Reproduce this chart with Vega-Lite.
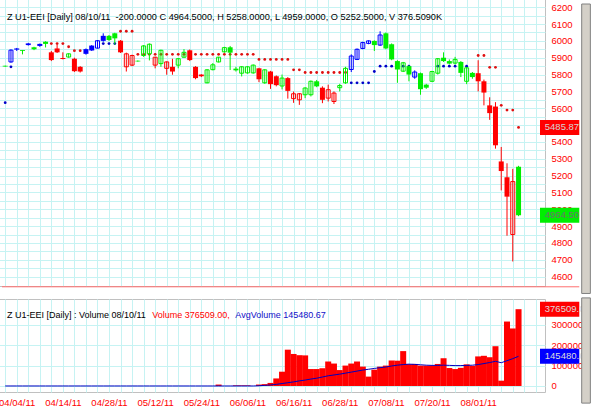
{
  "$schema": "https://vega.github.io/schema/vega-lite/v6.json",
  "padding": {"left": -4, "top": -2, "right": 0, "bottom": 0},
  "background": "white",
  "spacing": 13,
  "bounds": "flush",
  "config": {
    "view": {"stroke": "#c0c0c0"},
    "font": "Liberation Sans",
    "axis": {"domain": false, "ticks": false, "gridColor": "#c6f3f3", "gridWidth": 1, "labelColor": "#ff0000", "labelFont": "Liberation Sans", "labelFontSize": 9.5, "title": null, "labelOverlap": false, "labelFlush": false}
  },
  "datasets": {
    "bars": [
      {"i":-2,"o":5852,"h":5853,"l":5846,"c":5848,"s":"G","p":5633,"q":"B","v":0,"a":0},
      {"i":-1,"o":5875,"h":5950,"l":5870,"c":5945,"s":"B","p":5846,"q":"B","v":0,"a":0},
      {"i":0,"o":5955,"h":5958,"l":5940,"c":5948,"s":"B","v":0,"a":0},
      {"i":1,"o":5945,"h":5946,"l":5920,"c":5940,"s":"G","v":0,"a":0},
      {"i":2,"o":5985,"h":5988,"l":5972,"c":5975,"s":"B","v":0,"a":0},
      {"i":3,"o":5962,"h":5965,"l":5945,"c":5950,"s":"G","v":0,"a":0},
      {"i":4,"o":5982,"h":5984,"l":5965,"c":5970,"s":"B","v":0,"a":0},
      {"i":5,"o":5995,"h":5998,"l":5961,"c":5982,"s":"G","v":0,"a":0},
      {"i":6,"o":5932,"h":5940,"l":5880,"c":5886,"s":"R","p":5984,"q":"R","v":0,"a":0},
      {"i":7,"o":5955,"h":5976,"l":5928,"c":5932,"s":"R","p":5984,"q":"R","v":0,"a":0},
      {"i":8,"o":5898,"h":5932,"l":5890,"c":5892,"s":"R","p":5984,"q":"R","v":0,"a":0},
      {"i":9,"o":5904,"h":5926,"l":5900,"c":5923,"s":"G","p":5965,"q":"R","v":0,"a":0},
      {"i":10,"o":5894,"h":5900,"l":5815,"c":5820,"s":"R","p":5942,"q":"R","v":0,"a":0},
      {"i":11,"o":5846,"h":5850,"l":5812,"c":5818,"s":"R","p":5942,"q":"R","v":0,"a":0},
      {"i":12,"o":5951,"h":5955,"l":5918,"c":5923,"s":"B","v":0,"a":0},
      {"i":13,"o":5972,"h":5975,"l":5940,"c":5943,"s":"B","v":0,"a":0},
      {"i":14,"o":5957,"h":6005,"l":5955,"c":6001,"s":"B","v":0,"a":0},
      {"i":15,"o":6030,"h":6045,"l":5995,"c":6000,"s":"B","p":5984,"q":"B","v":0,"a":0},
      {"i":16,"o":6030,"h":6035,"l":6000,"c":6005,"s":"G","p":5984,"q":"B","v":0,"a":0},
      {"i":17,"o":6045,"h":6048,"l":5978,"c":6015,"s":"G","p":5984,"q":"B","v":0,"a":0},
      {"i":18,"o":6001,"h":6005,"l":5928,"c":5932,"s":"R","p":6057,"q":"R","v":0,"a":0},
      {"i":19,"o":5846,"h":5930,"l":5818,"c":5923,"s":"R","p":6057,"q":"R","v":0,"a":0},
      {"i":20,"o":5856,"h":5918,"l":5850,"c":5913,"s":"R","p":6057,"q":"R","v":0,"a":0},
      {"i":21,"o":5882,"h":5884,"l":5876,"c":5878,"s":"G","p":5920,"q":"R","v":0,"a":0},
      {"i":22,"o":5913,"h":5975,"l":5905,"c":5970,"s":"G","p":5920,"q":"R","v":0,"a":0},
      {"i":23,"o":5923,"h":5985,"l":5884,"c":5980,"s":"G","p":5920,"q":"R","v":0,"a":0},
      {"i":24,"o":5856,"h":5905,"l":5837,"c":5903,"s":"R","p":5920,"q":"R","v":0,"a":0},
      {"i":25,"o":5865,"h":5948,"l":5846,"c":5944,"s":"G","p":5920,"q":"R","v":0,"a":0},
      {"i":26,"o":5837,"h":5878,"l":5799,"c":5875,"s":"R","p":5920,"q":"R","v":0,"a":0},
      {"i":27,"o":5846,"h":5894,"l":5799,"c":5818,"s":"R","p":5920,"q":"R","v":0,"a":0},
      {"i":28,"o":5856,"h":5897,"l":5837,"c":5894,"s":"G","p":5920,"q":"R","v":0,"a":0},
      {"i":29,"o":5903,"h":5951,"l":5900,"c":5932,"s":"G","p":5920,"q":"R","v":0,"a":0},
      {"i":30,"o":5944,"h":5949,"l":5880,"c":5886,"s":"R","p":5920,"q":"R","v":0,"a":0},
      {"i":31,"o":5846,"h":5850,"l":5772,"c":5779,"s":"R","p":5920,"q":"R","v":0,"a":0},
      {"i":32,"o":5800,"h":5802,"l":5785,"c":5790,"s":"R","p":5920,"q":"R","v":0,"a":0},
      {"i":33,"o":5751,"h":5832,"l":5748,"c":5828,"s":"G","p":5920,"q":"R","v":0,"a":0},
      {"i":34,"o":5829,"h":5868,"l":5825,"c":5858,"s":"G","p":5920,"q":"R","v":0,"a":0},
      {"i":35,"o":5875,"h":5905,"l":5872,"c":5903,"s":"G","p":5920,"q":"R","v":7000,"a":0},
      {"i":36,"o":5935,"h":5965,"l":5930,"c":5960,"s":"G","p":5920,"q":"R","v":0,"a":0},
      {"i":37,"o":5962,"h":5970,"l":5827,"c":5930,"s":"G","p":5920,"q":"R","v":0,"a":0},
      {"i":38,"o":5835,"h":5846,"l":5818,"c":5825,"s":"G","p":5920,"q":"R","v":3000,"a":0},
      {"i":39,"o":5808,"h":5850,"l":5789,"c":5846,"s":"G","p":5920,"q":"R","v":3000,"a":0},
      {"i":40,"o":5810,"h":5850,"l":5805,"c":5846,"s":"G","p":5920,"q":"R","v":3000,"a":0},
      {"i":41,"o":5810,"h":5860,"l":5805,"c":5856,"s":"G","p":5920,"q":"R","v":0,"a":0},
      {"i":42,"o":5837,"h":5840,"l":5755,"c":5772,"s":"R","p":5890,"q":"R","v":7000,"a":1000},
      {"i":43,"o":5751,"h":5832,"l":5745,"c":5828,"s":"G","p":5890,"q":"R","v":9000,"a":3000},
      {"i":44,"o":5818,"h":5822,"l":5715,"c":5743,"s":"R","p":5890,"q":"R","v":15000,"a":5000},
      {"i":45,"o":5790,"h":5795,"l":5730,"c":5737,"s":"R","p":5890,"q":"R","v":37000,"a":8000},
      {"i":46,"o":5732,"h":5800,"l":5712,"c":5779,"s":"G","p":5890,"q":"R","v":70000,"a":12000},
      {"i":47,"o":5779,"h":5785,"l":5657,"c":5703,"s":"R","p":5890,"q":"R","v":178000,"a":16000},
      {"i":48,"o":5657,"h":5699,"l":5632,"c":5686,"s":"R","p":5828,"q":"R","v":157000,"a":20000},
      {"i":49,"o":5650,"h":5690,"l":5620,"c":5686,"s":"R","p":5828,"q":"R","v":151000,"a":25000},
      {"i":50,"o":5680,"h":5725,"l":5660,"c":5720,"s":"G","p":5812,"q":"R","v":150000,"a":29000},
      {"i":51,"o":5680,"h":5765,"l":5670,"c":5760,"s":"G","p":5812,"q":"R","v":83000,"a":34000},
      {"i":52,"o":5760,"h":5768,"l":5725,"c":5730,"s":"G","p":5812,"q":"R","v":83000,"a":38000},
      {"i":53,"o":5722,"h":5730,"l":5630,"c":5650,"s":"R","p":5812,"q":"R","v":87000,"a":44000},
      {"i":54,"o":5660,"h":5740,"l":5640,"c":5710,"s":"R","p":5812,"q":"R","v":120000,"a":50000},
      {"i":55,"o":5640,"h":5700,"l":5625,"c":5690,"s":"R","p":5812,"q":"R","v":110000,"a":54000},
      {"i":56,"o":5722,"h":5745,"l":5700,"c":5735,"s":"G","p":5812,"q":"R","v":78000,"a":58000},
      {"i":57,"o":5751,"h":5846,"l":5745,"c":5837,"s":"G","p":5812,"q":"R","v":100000,"a":63000},
      {"i":58,"o":5830,"h":5920,"l":5815,"c":5910,"s":"B","p":5751,"q":"B","v":110000,"a":68000},
      {"i":59,"o":5890,"h":5955,"l":5886,"c":5950,"s":"B","p":5751,"q":"B","v":120000,"a":73000},
      {"i":60,"o":5955,"h":5995,"l":5950,"c":5990,"s":"B","p":5751,"q":"B","v":95000,"a":78000},
      {"i":61,"o":5985,"h":6003,"l":5980,"c":6000,"s":"B","p":5751,"q":"B","v":46000,"a":82000},
      {"i":62,"o":6000,"h":6003,"l":5940,"c":5975,"s":"G","p":5818,"q":"B","v":80000,"a":86000},
      {"i":63,"o":5975,"h":6057,"l":5970,"c":6035,"s":"B","p":5850,"q":"B","v":95000,"a":90000},
      {"i":64,"o":6045,"h":6050,"l":5950,"c":5955,"s":"G","p":5850,"q":"B","v":100000,"a":93000},
      {"i":65,"o":5980,"h":5985,"l":5885,"c":5890,"s":"G","p":5850,"q":"B","v":125000,"a":98000},
      {"i":66,"o":5880,"h":5885,"l":5751,"c":5830,"s":"G","p":5850,"q":"B","v":124000,"a":102000},
      {"i":67,"o":5820,"h":5875,"l":5815,"c":5870,"s":"G","p":5850,"q":"B","v":171000,"a":105000},
      {"i":68,"o":5850,"h":5855,"l":5760,"c":5800,"s":"G","p":5850,"q":"B","v":107000,"a":107000},
      {"i":69,"o":5785,"h":5825,"l":5775,"c":5815,"s":"B","v":108000,"a":106000},
      {"i":70,"o":5808,"h":5812,"l":5680,"c":5713,"s":"G","v":100000,"a":104000},
      {"i":71,"o":5740,"h":5745,"l":5715,"c":5722,"s":"G","v":100000,"a":102000},
      {"i":72,"o":5760,"h":5822,"l":5755,"c":5818,"s":"G","v":100000,"a":101000},
      {"i":73,"o":5808,"h":5898,"l":5800,"c":5894,"s":"G","p":5850,"q":"B","v":108000,"a":101000},
      {"i":74,"o":5900,"h":5932,"l":5875,"c":5880,"s":"G","p":5850,"q":"B","v":136000,"a":102000},
      {"i":75,"o":5880,"h":5890,"l":5860,"c":5865,"s":"G","p":5850,"q":"B","v":88000,"a":101000},
      {"i":76,"o":5868,"h":5905,"l":5860,"c":5890,"s":"G","p":5850,"q":"B","v":83000,"a":100000},
      {"i":77,"o":5875,"h":5880,"l":5785,"c":5810,"s":"G","p":5850,"q":"B","v":89000,"a":100000},
      {"i":78,"o":5760,"h":5845,"l":5743,"c":5840,"s":"G","p":5850,"q":"B","v":106000,"a":101000},
      {"i":79,"o":5810,"h":5815,"l":5775,"c":5785,"s":"G","v":99000,"a":102000},
      {"i":80,"o":5808,"h":5885,"l":5700,"c":5760,"s":"R","p":5913,"q":"R","v":145000,"a":105000},
      {"i":81,"o":5760,"h":5770,"l":5617,"c":5693,"s":"R","p":5913,"q":"R","v":148000,"a":110000},
      {"i":82,"o":5617,"h":5665,"l":5531,"c":5571,"s":"R","p":5843,"q":"R","v":141000,"a":115000},
      {"i":83,"o":5610,"h":5636,"l":5360,"c":5380,"s":"R","p":5843,"q":"R","v":195000,"a":121000},
      {"i":84,"o":5284,"h":5370,"l":5112,"c":5227,"s":"R","p":5617,"q":"R","v":26000,"a":114000},
      {"i":85,"o":5190,"h":5273,"l":4843,"c":5075,"s":"R","p":5589,"q":"R","v":316000,"a":124000},
      {"i":86,"o":4850,"h":5240,"l":4690,"c":5164.5,"s":"R","p":5589,"q":"R","v":282000,"a":134000},
      {"i":87,"o":5252.5,"h":5258,"l":4959,"c":4964.5,"s":"G","p":5485.87,"q":"R","v":376509,"a":145480.67}
    ],
    "tags": [
      {"panel":"price","v":5485.87,"t":"5485.87","k":"R"},
      {"panel":"price","v":4964.5,"t":"4964.50","k":"G"},
      {"panel":"vol","v":376509,"t":"376509.00","k":"R"},
      {"panel":"vol","v":145480.67,"t":"145480.67","k":"B"}
    ],
    "anno": [{"n": 1}]
  },
  "vconcat": [
    {
      "width": 548,
      "height": 287,
      "layer": [
        {
          "data": {"name": "bars"},
          "transform": [{"filter": "isValid(datum.p)"}],
          "mark": {"type": "circle", "size": 8, "opacity": 1},
          "encoding": {
            "x": {"field": "i", "type": "quantitative", "scale": {"domain": [-2.553, 90.72], "nice": false, "zero": false},
                  "axis": {"values": [-2,0,2,4,6,8,10,12,14,16,18,20,22,24,26,28,30,32,34,36,38,40,42,44,46,48,50,52,54,56,58,60,62,64,66,68,70,72,74,76,78,80,82,84,86,88,90], "labels": false, "grid": true}},
            "y": {"field": "p", "type": "quantitative", "scale": {"domain": [4574, 6219], "nice": false, "zero": false},
                  "axis": {"orient": "right", "labelPadding": 6, "values": [4600,4650,4700,4750,4800,4850,4900,4950,5000,5050,5100,5150,5200,5250,5300,5350,5400,5450,5500,5550,5600,5650,5700,5750,5800,5850,5900,5950,6000,6050,6100,6150,6200], "labelExpr": "datum.value % 100 === 0 ? '' + datum.value : ''"}},
            "fill": {"field": "q", "type": "nominal", "scale": {"domain": ["R","B"], "range": ["#e01010","#0000c8"]}, "legend": null}
          }
        },
        {
          "data": {"name": "bars"},
          "mark": {"type": "rule", "strokeWidth": 1},
          "encoding": {
            "x": {"field": "i", "type": "quantitative", "scale": {"domain": [-2.553, 90.72], "nice": false, "zero": false},
                  "axis": {"values": [-2,0,2,4,6,8,10,12,14,16,18,20,22,24,26,28,30,32,34,36,38,40,42,44,46,48,50,52,54,56,58,60,62,64,66,68,70,72,74,76,78,80,82,84,86,88,90], "labels": false, "grid": true}},
            "y": {"field": "l", "type": "quantitative", "scale": {"domain": [4574, 6219], "nice": false, "zero": false},
                  "axis": {"orient": "right", "labelPadding": 6, "values": [4600,4650,4700,4750,4800,4850,4900,4950,5000,5050,5100,5150,5200,5250,5300,5350,5400,5450,5500,5550,5600,5650,5700,5750,5800,5850,5900,5950,6000,6050,6100,6150,6200], "labelExpr": "datum.value % 100 === 0 ? '' + datum.value : ''"}},
            "y2": {"field": "h"},
            "color": {"field": "s", "type": "nominal", "scale": {"domain": ["R","G","B"], "range": ["#ff0000","#00ee00","#0000ff"]}, "legend": null}
          }
        },
        {
          "data": {"name": "bars"},
          "transform": [{"filter": "datum.c <= datum.o"}],
          "mark": {"type": "bar", "orient": "vertical", "size": 5},
          "encoding": {
            "x": {"field": "i", "type": "quantitative", "scale": {"domain": [-2.553, 90.72], "nice": false, "zero": false},
                  "axis": {"values": [-2,0,2,4,6,8,10,12,14,16,18,20,22,24,26,28,30,32,34,36,38,40,42,44,46,48,50,52,54,56,58,60,62,64,66,68,70,72,74,76,78,80,82,84,86,88,90], "labels": false, "grid": true}},
            "y": {"field": "o", "type": "quantitative", "scale": {"domain": [4574, 6219], "nice": false, "zero": false},
                  "axis": {"orient": "right", "labelPadding": 6, "values": [4600,4650,4700,4750,4800,4850,4900,4950,5000,5050,5100,5150,5200,5250,5300,5350,5400,5450,5500,5550,5600,5650,5700,5750,5800,5850,5900,5950,6000,6050,6100,6150,6200], "labelExpr": "datum.value % 100 === 0 ? '' + datum.value : ''"}},
            "y2": {"field": "c"},
            "color": {"field": "s", "type": "nominal", "legend": null}
          }
        },
        {
          "data": {"name": "bars"},
          "transform": [{"filter": "datum.c > datum.o"}],
          "mark": {"type": "bar", "orient": "vertical", "size": 4, "filled": false, "strokeWidth": 1},
          "encoding": {
            "x": {"field": "i", "type": "quantitative", "scale": {"domain": [-2.553, 90.72], "nice": false, "zero": false},
                  "axis": {"values": [-2,0,2,4,6,8,10,12,14,16,18,20,22,24,26,28,30,32,34,36,38,40,42,44,46,48,50,52,54,56,58,60,62,64,66,68,70,72,74,76,78,80,82,84,86,88,90], "labels": false, "grid": true}},
            "y": {"field": "o", "type": "quantitative", "scale": {"domain": [4574, 6219], "nice": false, "zero": false},
                  "axis": {"orient": "right", "labelPadding": 6, "values": [4600,4650,4700,4750,4800,4850,4900,4950,5000,5050,5100,5150,5200,5250,5300,5350,5400,5450,5500,5550,5600,5650,5700,5750,5800,5850,5900,5950,6000,6050,6100,6150,6200], "labelExpr": "datum.value % 100 === 0 ? '' + datum.value : ''"}},
            "y2": {"field": "c"},
            "color": {"field": "s", "type": "nominal", "legend": null}
          }
        },
        {
          "data": {"name": "anno"},
          "mark": {"type": "text", "align": "left", "baseline": "middle", "fontSize": 9.2, "font": "Liberation Sans", "fill": "#000000"},
          "encoding": {
            "x": {"datum": -1.7, "type": "quantitative", "scale": {"domain": [-2.553, 90.72], "nice": false, "zero": false},
                  "axis": {"values": [-2,0,2,4,6,8,10,12,14,16,18,20,22,24,26,28,30,32,34,36,38,40,42,44,46,48,50,52,54,56,58,60,62,64,66,68,70,72,74,76,78,80,82,84,86,88,90], "labels": false, "grid": true}},
            "y": {"datum": 6144.5, "type": "quantitative", "scale": {"domain": [4574, 6219], "nice": false, "zero": false},
                  "axis": {"orient": "right", "labelPadding": 6, "values": [4600,4650,4700,4750,4800,4850,4900,4950,5000,5050,5100,5150,5200,5250,5300,5350,5400,5450,5500,5550,5600,5650,5700,5750,5800,5850,5900,5950,6000,6050,6100,6150,6200], "labelExpr": "datum.value % 100 === 0 ? '' + datum.value : ''"}},
            "text": {"value": "Z U1-EEI [Daily] 08/10/11\u00a0 -200.0000 C 4964.5000, H 5258.0000, L 4959.0000, O 5252.5000, V 376.5090K"}
          }
        },
        {
          "data": {"name": "tags"},
          "transform": [{"filter": "datum.panel === 'price'"}],
          "mark": {"type": "bar", "orient": "horizontal", "size": 15},
          "encoding": {
            "x": {"datum": 90.72, "type": "quantitative", "scale": {"domain": [-2.553, 90.72], "nice": false, "zero": false},
                  "axis": {"values": [-2,0,2,4,6,8,10,12,14,16,18,20,22,24,26,28,30,32,34,36,38,40,42,44,46,48,50,52,54,56,58,60,62,64,66,68,70,72,74,76,78,80,82,84,86,88,90], "labels": false, "grid": true}},
            "x2": {"datum": 97.53},
            "y": {"field": "v", "type": "quantitative", "scale": {"domain": [4574, 6219], "nice": false, "zero": false},
                  "axis": {"orient": "right", "labelPadding": 6, "values": [4600,4650,4700,4750,4800,4850,4900,4950,5000,5050,5100,5150,5200,5250,5300,5350,5400,5450,5500,5550,5600,5650,5700,5750,5800,5850,5900,5950,6000,6050,6100,6150,6200], "labelExpr": "datum.value % 100 === 0 ? '' + datum.value : ''"}},
            "color": {"field": "k", "type": "nominal", "legend": null}
          }
        },
        {
          "data": {"name": "tags"},
          "transform": [{"filter": "datum.panel === 'price' && datum.k === 'R'"}],
          "mark": {"type": "text", "align": "left", "baseline": "middle", "fontSize": 9.5, "font": "Liberation Sans", "fill": "#d4d4d4"},
          "encoding": {
            "x": {"datum": 91.55, "type": "quantitative", "scale": {"domain": [-2.553, 90.72], "nice": false, "zero": false},
                  "axis": {"values": [-2,0,2,4,6,8,10,12,14,16,18,20,22,24,26,28,30,32,34,36,38,40,42,44,46,48,50,52,54,56,58,60,62,64,66,68,70,72,74,76,78,80,82,84,86,88,90], "labels": false, "grid": true}},
            "y": {"field": "v", "type": "quantitative", "scale": {"domain": [4574, 6219], "nice": false, "zero": false},
                  "axis": {"orient": "right", "labelPadding": 6, "values": [4600,4650,4700,4750,4800,4850,4900,4950,5000,5050,5100,5150,5200,5250,5300,5350,5400,5450,5500,5550,5600,5650,5700,5750,5800,5850,5900,5950,6000,6050,6100,6150,6200], "labelExpr": "datum.value % 100 === 0 ? '' + datum.value : ''"}},
            "text": {"field": "t"}
          }
        },
        {
          "data": {"name": "tags"},
          "transform": [{"filter": "datum.panel === 'price' && datum.k === 'G'"}],
          "mark": {"type": "text", "align": "left", "baseline": "middle", "fontSize": 9.5, "font": "Liberation Sans", "fill": "#707070"},
          "encoding": {
            "x": {"datum": 91.55, "type": "quantitative", "scale": {"domain": [-2.553, 90.72], "nice": false, "zero": false},
                  "axis": {"values": [-2,0,2,4,6,8,10,12,14,16,18,20,22,24,26,28,30,32,34,36,38,40,42,44,46,48,50,52,54,56,58,60,62,64,66,68,70,72,74,76,78,80,82,84,86,88,90], "labels": false, "grid": true}},
            "y": {"field": "v", "type": "quantitative", "scale": {"domain": [4574, 6219], "nice": false, "zero": false},
                  "axis": {"orient": "right", "labelPadding": 6, "values": [4600,4650,4700,4750,4800,4850,4900,4950,5000,5050,5100,5150,5200,5250,5300,5350,5400,5450,5500,5550,5600,5650,5700,5750,5800,5850,5900,5950,6000,6050,6100,6150,6200], "labelExpr": "datum.value % 100 === 0 ? '' + datum.value : ''"}},
            "text": {"field": "t"}
          }
        },
        {
          "data": {"name": "anno"},
          "mark": {"type": "rule", "color": "#ff7070", "strokeWidth": 1},
          "encoding": {
            "x": {"datum": -2.553, "type": "quantitative", "scale": {"domain": [-2.553, 90.72], "nice": false, "zero": false},
                  "axis": {"values": [-2,0,2,4,6,8,10,12,14,16,18,20,22,24,26,28,30,32,34,36,38,40,42,44,46,48,50,52,54,56,58,60,62,64,66,68,70,72,74,76,78,80,82,84,86,88,90], "labels": false, "grid": true}},
            "x2": {"datum": 97.53},
            "y": {"datum": 4539.6, "type": "quantitative", "scale": {"domain": [4574, 6219], "nice": false, "zero": false},
                  "axis": {"orient": "right", "labelPadding": 6, "values": [4600,4650,4700,4750,4800,4850,4900,4950,5000,5050,5100,5150,5200,5250,5300,5350,5400,5450,5500,5550,5600,5650,5700,5750,5800,5850,5900,5950,6000,6050,6100,6150,6200], "labelExpr": "datum.value % 100 === 0 ? '' + datum.value : ''"}}
          }
        },
        {
          "data": {"name": "anno"},
          "mark": {"type": "rect", "fill": "#d4d0c8", "stroke": "#808080", "strokeWidth": 1},
          "encoding": {
            "x": {"datum": 97.95, "type": "quantitative", "scale": {"domain": [-2.553, 90.72], "nice": false, "zero": false},
                  "axis": {"values": [-2,0,2,4,6,8,10,12,14,16,18,20,22,24,26,28,30,32,34,36,38,40,42,44,46,48,50,52,54,56,58,60,62,64,66,68,70,72,74,76,78,80,82,84,86,88,90], "labels": false, "grid": true}},
            "x2": {"datum": 99.45},
            "y": {"datum": 6219, "type": "quantitative", "scale": {"domain": [4574, 6219], "nice": false, "zero": false},
                  "axis": {"orient": "right", "labelPadding": 6, "values": [4600,4650,4700,4750,4800,4850,4900,4950,5000,5050,5100,5150,5200,5250,5300,5350,5400,5450,5500,5550,5600,5650,5700,5750,5800,5850,5900,5950,6000,6050,6100,6150,6200], "labelExpr": "datum.value % 100 === 0 ? '' + datum.value : ''"}},
            "y2": {"datum": 4500}
          }
        }
      ]
    },
    {
      "width": 548,
      "height": 93,
      "layer": [
        {
          "data": {"name": "bars"},
          "mark": {"type": "bar", "size": 6, "color": "#ff0000"},
          "encoding": {
            "x": {"field": "i", "type": "quantitative", "scale": {"domain": [-2.553, 90.72], "nice": false, "zero": false},
                  "axis": {"values": [-2,0,2,4,6,8,10,12,14,16,18,20,22,24,26,28,30,32,34,36,38,40,42,44,46,48,50,52,54,56,58,60,62,64,66,68,70,72,74,76,78,80,82,84,86,88,90], "grid": true, "labelPadding": 5, "labelExpr": "datum.value % 8 === 0 && datum.value >= 0 && datum.value <= 80 ? ['04/04/11','04/14/11','04/28/11','05/12/11','05/24/11','06/06/11','06/16/11','06/28/11','07/08/11','07/20/11','08/01/11'][datum.value / 8] : ''"}},
            "y": {"field": "v", "type": "quantitative", "scale": {"domain": [-5000, 402000], "nice": false, "zero": false},
                  "axis": {"orient": "right", "labelPadding": 6, "values": [0, 100000, 200000, 300000], "format": "d"}}
          }
        },
        {
          "data": {"name": "bars"},
          "mark": {"type": "line", "color": "#0000c0", "strokeWidth": 1},
          "encoding": {
            "x": {"field": "i", "type": "quantitative", "scale": {"domain": [-2.553, 90.72], "nice": false, "zero": false},
                  "axis": {"values": [-2,0,2,4,6,8,10,12,14,16,18,20,22,24,26,28,30,32,34,36,38,40,42,44,46,48,50,52,54,56,58,60,62,64,66,68,70,72,74,76,78,80,82,84,86,88,90], "grid": true, "labelPadding": 5, "labelExpr": "datum.value % 8 === 0 && datum.value >= 0 && datum.value <= 80 ? ['04/04/11','04/14/11','04/28/11','05/12/11','05/24/11','06/06/11','06/16/11','06/28/11','07/08/11','07/20/11','08/01/11'][datum.value / 8] : ''"}},
            "y": {"field": "a", "type": "quantitative", "scale": {"domain": [-5000, 402000], "nice": false, "zero": false},
                  "axis": {"orient": "right", "labelPadding": 6, "values": [0, 100000, 200000, 300000], "format": "d"}}
          }
        },
        {
          "data": {"name": "anno"},
          "mark": {"type": "text", "align": "left", "baseline": "middle", "fontSize": 9, "font": "Liberation Sans", "fill": "#000000"},
          "encoding": {
            "x": {"datum": -1.7, "type": "quantitative", "scale": {"domain": [-2.553, 90.72], "nice": false, "zero": false},
                  "axis": {"values": [-2,0,2,4,6,8,10,12,14,16,18,20,22,24,26,28,30,32,34,36,38,40,42,44,46,48,50,52,54,56,58,60,62,64,66,68,70,72,74,76,78,80,82,84,86,88,90], "grid": true, "labelPadding": 5, "labelExpr": "datum.value % 8 === 0 && datum.value >= 0 && datum.value <= 80 ? ['04/04/11','04/14/11','04/28/11','05/12/11','05/24/11','06/06/11','06/16/11','06/28/11','07/08/11','07/20/11','08/01/11'][datum.value / 8] : ''"}},
            "y": {"datum": 349500, "type": "quantitative", "scale": {"domain": [-5000, 402000], "nice": false, "zero": false},
                  "axis": {"orient": "right", "labelPadding": 6, "values": [0, 100000, 200000, 300000], "format": "d"}},
            "text": {"value": "Z U1-EEI [Daily] : Volume 08/10/11"}
          }
        },
        {
          "data": {"name": "anno"},
          "mark": {"type": "text", "align": "left", "baseline": "middle", "fontSize": 9, "font": "Liberation Sans", "fill": "#ff0000"},
          "encoding": {
            "x": {"datum": 23.5, "type": "quantitative", "scale": {"domain": [-2.553, 90.72], "nice": false, "zero": false},
                  "axis": {"values": [-2,0,2,4,6,8,10,12,14,16,18,20,22,24,26,28,30,32,34,36,38,40,42,44,46,48,50,52,54,56,58,60,62,64,66,68,70,72,74,76,78,80,82,84,86,88,90], "grid": true, "labelPadding": 5, "labelExpr": "datum.value % 8 === 0 && datum.value >= 0 && datum.value <= 80 ? ['04/04/11','04/14/11','04/28/11','05/12/11','05/24/11','06/06/11','06/16/11','06/28/11','07/08/11','07/20/11','08/01/11'][datum.value / 8] : ''"}},
            "y": {"datum": 349500, "type": "quantitative", "scale": {"domain": [-5000, 402000], "nice": false, "zero": false},
                  "axis": {"orient": "right", "labelPadding": 6, "values": [0, 100000, 200000, 300000], "format": "d"}},
            "text": {"value": "Volume 376509.00,"}
          }
        },
        {
          "data": {"name": "anno"},
          "mark": {"type": "text", "align": "left", "baseline": "middle", "fontSize": 9, "font": "Liberation Sans", "fill": "#1010c8"},
          "encoding": {
            "x": {"datum": 37.9, "type": "quantitative", "scale": {"domain": [-2.553, 90.72], "nice": false, "zero": false},
                  "axis": {"values": [-2,0,2,4,6,8,10,12,14,16,18,20,22,24,26,28,30,32,34,36,38,40,42,44,46,48,50,52,54,56,58,60,62,64,66,68,70,72,74,76,78,80,82,84,86,88,90], "grid": true, "labelPadding": 5, "labelExpr": "datum.value % 8 === 0 && datum.value >= 0 && datum.value <= 80 ? ['04/04/11','04/14/11','04/28/11','05/12/11','05/24/11','06/06/11','06/16/11','06/28/11','07/08/11','07/20/11','08/01/11'][datum.value / 8] : ''"}},
            "y": {"datum": 349500, "type": "quantitative", "scale": {"domain": [-5000, 402000], "nice": false, "zero": false},
                  "axis": {"orient": "right", "labelPadding": 6, "values": [0, 100000, 200000, 300000], "format": "d"}},
            "text": {"value": "AvgVolume 145480.67"}
          }
        },
        {
          "data": {"name": "tags"},
          "transform": [{"filter": "datum.panel === 'vol'"}],
          "mark": {"type": "bar", "orient": "horizontal", "size": 15},
          "encoding": {
            "x": {"datum": 90.72, "type": "quantitative", "scale": {"domain": [-2.553, 90.72], "nice": false, "zero": false},
                  "axis": {"values": [-2,0,2,4,6,8,10,12,14,16,18,20,22,24,26,28,30,32,34,36,38,40,42,44,46,48,50,52,54,56,58,60,62,64,66,68,70,72,74,76,78,80,82,84,86,88,90], "grid": true, "labelPadding": 5, "labelExpr": "datum.value % 8 === 0 && datum.value >= 0 && datum.value <= 80 ? ['04/04/11','04/14/11','04/28/11','05/12/11','05/24/11','06/06/11','06/16/11','06/28/11','07/08/11','07/20/11','08/01/11'][datum.value / 8] : ''"}},
            "x2": {"datum": 97.53},
            "y": {"field": "v", "type": "quantitative", "scale": {"domain": [-5000, 402000], "nice": false, "zero": false},
                  "axis": {"orient": "right", "labelPadding": 6, "values": [0, 100000, 200000, 300000], "format": "d"}},
            "color": {"field": "k", "type": "nominal", "scale": {"domain": ["R","G","B"], "range": ["#ff0000","#00ee00","#0000ff"]}, "legend": null}
          }
        },
        {
          "data": {"name": "tags"},
          "transform": [{"filter": "datum.panel === 'vol'"}],
          "mark": {"type": "text", "align": "left", "baseline": "middle", "fontSize": 9.5, "font": "Liberation Sans", "fill": "#dcdcdc"},
          "encoding": {
            "x": {"datum": 91.55, "type": "quantitative", "scale": {"domain": [-2.553, 90.72], "nice": false, "zero": false},
                  "axis": {"values": [-2,0,2,4,6,8,10,12,14,16,18,20,22,24,26,28,30,32,34,36,38,40,42,44,46,48,50,52,54,56,58,60,62,64,66,68,70,72,74,76,78,80,82,84,86,88,90], "grid": true, "labelPadding": 5, "labelExpr": "datum.value % 8 === 0 && datum.value >= 0 && datum.value <= 80 ? ['04/04/11','04/14/11','04/28/11','05/12/11','05/24/11','06/06/11','06/16/11','06/28/11','07/08/11','07/20/11','08/01/11'][datum.value / 8] : ''"}},
            "y": {"field": "v", "type": "quantitative", "scale": {"domain": [-5000, 402000], "nice": false, "zero": false},
                  "axis": {"orient": "right", "labelPadding": 6, "values": [0, 100000, 200000, 300000], "format": "d"}},
            "text": {"field": "t"}
          }
        },
        {
          "data": {"name": "anno"},
          "mark": {"type": "rect", "fill": "#d4d0c8", "stroke": "#808080", "strokeWidth": 1},
          "encoding": {
            "x": {"datum": 97.95, "type": "quantitative", "scale": {"domain": [-2.553, 90.72], "nice": false, "zero": false},
                  "axis": {"values": [-2,0,2,4,6,8,10,12,14,16,18,20,22,24,26,28,30,32,34,36,38,40,42,44,46,48,50,52,54,56,58,60,62,64,66,68,70,72,74,76,78,80,82,84,86,88,90], "grid": true, "labelPadding": 5, "labelExpr": "datum.value % 8 === 0 && datum.value >= 0 && datum.value <= 80 ? ['04/04/11','04/14/11','04/28/11','05/12/11','05/24/11','06/06/11','06/16/11','06/28/11','07/08/11','07/20/11','08/01/11'][datum.value / 8] : ''"}},
            "x2": {"datum": 99.45},
            "y": {"datum": 432000, "type": "quantitative", "scale": {"domain": [-5000, 402000], "nice": false, "zero": false},
                  "axis": {"orient": "right", "labelPadding": 6, "values": [0, 100000, 200000, 300000], "format": "d"}},
            "y2": {"datum": -84000}
          }
        }
      ]
    }
  ]
}
